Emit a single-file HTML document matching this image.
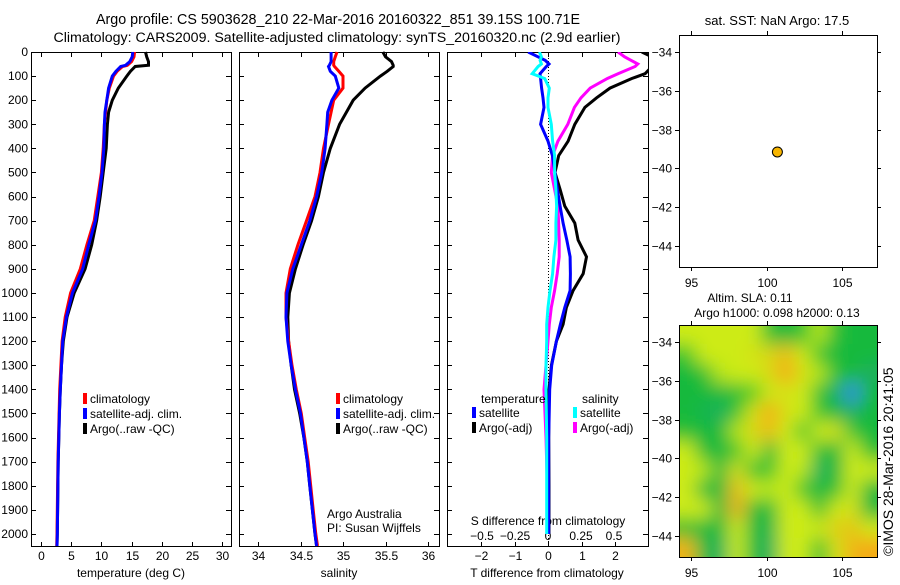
<!DOCTYPE html>
<html><head><meta charset="utf-8">
<style>
body{margin:0;background:#fff;}
svg text{font-family:"Liberation Sans",sans-serif;font-size:12px;fill:#000;}
</style></head>
<body>
<svg id="c" width="900" height="580" xmlns="http://www.w3.org/2000/svg">
<defs>
<clipPath id="cp3"><rect x="447" y="52" width="201" height="494"/></clipPath>
<clipPath id="cpm"><rect x="679" y="325" width="198" height="232"/></clipPath>
<filter id="blur" x="-10%" y="-10%" width="120%" height="120%"><feGaussianBlur stdDeviation="9"/></filter>
</defs>
<text x="338" y="24" text-anchor="middle" style="font-size:14.3px">Argo profile: CS 5903628_210 22-Mar-2016 20160322_851 39.15S 100.71E</text>
<text x="337" y="42" text-anchor="middle" style="font-size:14.2px">Climatology: CARS2009. Satellite-adjusted climatology: synTS_20160320.nc (2.9d earlier)</text>
<text x="777" y="25" text-anchor="middle" style="font-size:13px">sat. SST: NaN Argo: 17.5</text>
<text x="750" y="302" text-anchor="middle">Altim. SLA: 0.11</text>
<text x="777" y="317" text-anchor="middle">Argo h1000: 0.098 h2000: 0.13</text>
<text transform="translate(893,556) rotate(-90)" style="font-size:14px">©IMOS 28-Mar-2016 20:41:05</text>
<g id="g"></g>
</svg>
<script>
const depth=[0,20,40,55,60,80,100,150,200,250,300,400,500,600,700,800,900,1000,1100,1200,1300,1400,1500,1600,1700,1800,1900,2000,2050];
const tClim=[15.5,15.4,15,14.3,13.5,12.6,12,11.3,10.9,10.7,10.5,10.3,10,9.4,8.8,7.6,6.5,4.9,4.0,3.5,3.3,3.1,3.0,2.9,2.8,2.75,2.7,2.65,2.6];
const tSat=[15.2,15.1,14.7,14.0,13.2,12.4,11.8,11.2,10.9,10.6,10.5,10.4,10.1,9.6,9.0,7.9,6.9,5.2,4.2,3.6,3.4,3.2,3.05,2.95,2.85,2.8,2.75,2.7,2.65];
const tArgo=[17.3,17.5,17.8,17.8,15.6,14.8,14.2,12.8,11.8,11.2,11.0,10.8,10.3,9.8,9.2,8.4,7.3,5.5,4.3,3.7,3.4,3.2,3.05,2.95,2.85,2.8,2.75,2.7,2.65];
const sClim=[34.93,34.91,34.89,34.89,34.9,34.95,35.0,35.0,34.89,34.86,34.83,34.77,34.73,34.67,34.57,34.47,34.38,34.33,34.33,34.36,34.40,34.45,34.51,34.55,34.59,34.62,34.65,34.68,34.70];
const sSat=[34.86,34.86,34.86,34.84,34.83,34.85,34.91,34.95,34.87,34.82,34.81,34.79,34.75,34.69,34.61,34.51,34.41,34.34,34.33,34.35,34.39,34.44,34.50,34.54,34.58,34.61,34.64,34.67,34.69];
const sArgo=[35.47,35.5,35.57,35.59,35.59,35.52,35.44,35.26,35.12,35.04,34.96,34.85,34.77,34.71,34.63,34.53,34.44,34.37,34.35,34.36,34.39,34.43,34.49,34.54,34.58,34.61,34.64,34.67,34.69];
const dDepth=[0,20,35,50,60,90,110,150,190,230,300,370,430,500,570,640,710,780,850,920,990,1060,1130,1200,1300,1400,1600,1800,2000];
const dTsat=[-0.59,-0.3,-0.08,0.03,-0.05,-0.24,-0.22,-0.19,-0.15,-0.12,-0.22,0.0,0.13,0.21,0.28,0.36,0.45,0.56,0.66,0.67,0.66,0.5,0.37,0.25,0.11,0.05,0.02,0.02,0.02];
const dTargo=[2.8,3.1,3.2,3.2,3.1,2.9,2.5,1.85,1.45,1.1,0.8,0.6,0.32,0.21,0.36,0.5,0.8,0.9,1.15,1.05,0.75,0.55,0.45,0.25,0.1,0.03,0.02,0.03,0.03];
const dSsat=[-0.065,-0.05,-0.06,-0.05,-0.075,-0.12,-0.025,0.01,0,0,0.025,0.035,0.05,0.05,0.06,0.065,0.06,0.06,0.045,0.035,0.015,0.0,-0.01,-0.01,-0.015,-0.015,-0.01,-0.01,-0.01];
const dSargo=[0.53,0.58,0.63,0.68,0.66,0.53,0.45,0.32,0.25,0.2,0.15,0.075,0.035,0.025,0.05,0.075,0.08,0.085,0.085,0.07,0.05,0.025,0.01,0.0,-0.015,-0.03,-0.015,-0.005,0.0];
const depthTicks=[0,100,200,300,400,500,600,700,800,900,1000,1100,1200,1300,1400,1500,1600,1700,1800,1900,2000];
const tTicks=[0,5,10,15,20,25,30];
const sTicks=[34,34.5,35,35.5,36];
const dtTicks=[-2,-1,0,1,2];
const dsTicks=[-0.5,-0.25,0,0.25,0.5];
const lonTicks=[95,100,105];
const latTicks=[-34,-36,-38,-40,-42,-44];
const argoLon=100.71, argoLat=-39.15;
const sla=[
[0.3,0.3,0.3,0.3,0.3,-0.8,-1,-0.6,0.2,-0.8,-1,-1],
[-0.5,0.3,0.3,0.3,0.4,0.5,0.8,0.3,-0.6,-1,-1,-1],
[-1,-0.8,0.2,0.3,0.3,0.5,1.1,0.4,0.2,-0.8,-1,-1.2],
[-1,-1,-1,-0.8,-0.3,0.3,0.4,0.3,-0.8,-1.2,-2,-1],
[-1,-1.1,-1.2,-0.6,0.4,1.0,0.4,0.3,-0.6,-1,-1.2,-1],
[-0.8,-1,-1,0.2,0.5,0.8,0.3,-0.6,0.3,0.4,-0.6,-1],
[0.3,-0.9,-1,-0.5,0.3,-1,0.3,0.3,-0.8,-1,0.3,-0.8],
[0.3,0.2,-1,0.4,-0.8,-0.6,0.3,0.2,-1.2,-1,0.3,0.3],
[0.3,-1,-1,0.8,0.3,0.2,0.3,-0.6,-1,-0.8,0.3,-1],
[0.3,0.3,-1,0.9,-0.9,-1,0.3,0.3,-0.8,0.3,0.4,-1],
[-0.8,-1,-1,0.3,-1,-1.1,0.3,0.3,0.3,0.6,0.7,0.3],
[0.9,-1,-1.2,0.3,-1,-1.2,0.3,0.3,-0.8,0.4,0.9,1.0]];

const NS='http://www.w3.org/2000/svg';
const G=document.getElementById('g');
function el(t,a,p){const e=document.createElementNS(NS,t);for(const k in a)e.setAttribute(k,a[k]);(p||G).appendChild(e);return e;}
const top0=52,bot0=546;
const yD=d=>top0+(d/2050)*(bot0-top0);
const xT=v=>41+v*6.04;
const xS=v=>258+(v-34)*85;
const xDT=v=>548+v*33.5;
const xDS=v=>548+v*132;
const xLon=v=>679+(v-94.2)*(198/13.1);
const yLat1=v=>35+(-33.1-v)*(232/12);
const yLat2=v=>325+(-33.1-v)*(232/12);

function frame(x,y,w,h,name){const r=el('rect',{x:x+0.5,y:y+0.5,width:w,height:h,fill:'none',stroke:'#000','stroke-width':1});}
function line(vals,ds,xf,color,name,par){const pts=vals.map((v,i)=>xf(v).toFixed(1)+','+yD(ds[i]).toFixed(1)).join(' ');const p=el('polyline',{points:pts,fill:'none',stroke:color,'stroke-width':3,'stroke-linejoin':'miter'},par);}
function txt(x,y,s,anchor,name){const t=el('text',{x:x,y:y,'text-anchor':anchor||'start'});t.textContent=s;return t;}
function tk(x1,y1,x2,y2){el('line',{x1:x1,y1:y1,x2:x2,y2:y2,stroke:'#000','stroke-width':1});}

const panels=[[31,200],[239,200],[447,201]];
panels.forEach((p,i)=>{
  frame(p[0],top0,p[1],bot0-top0,'panel-'+(i+1)+'-frame');
  depthTicks.forEach(d=>{const y=Math.round(yD(d))+0.5;tk(p[0],y,p[0]+5,y);tk(p[0]+p[1],y,p[0]+p[1]-5,y);});
});
depthTicks.forEach(d=>txt(28,yD(d)+4,String(d),'end','depth-tick-label'));
tTicks.forEach(v=>{const x=Math.round(xT(v))+0.5;tk(x,top0,x,top0+5);tk(x,bot0,x,bot0-4);txt(x,560,String(v),'middle','temp-tick-label');});
sTicks.forEach(v=>{const x=Math.round(xS(v))+0.5;tk(x,top0,x,top0+5);tk(x,bot0,x,bot0-4);txt(x,560,String(v),'middle','sal-tick-label');});
dtTicks.forEach(v=>{const x=Math.round(xDT(v))+0.5;tk(x,top0,x,top0+5);tk(x,bot0,x,bot0-4);txt(x,560,String(v).replace('-','\u2212'),'middle','dt-tick-label');});
dsTicks.forEach(v=>{txt(xDS(v),540,String(v).replace('-','\u2212'),'middle','ds-tick-label');});
txt(131,577,'temperature (deg C)','middle','temp-axis-title');
txt(339,577,'salinity','middle','sal-axis-title');
txt(547,577,'T difference from climatology','middle','dt-axis-title');
txt(548,525,'S difference from climatology','middle','ds-axis-title');
el('line',{x1:548.5,y1:top0,x2:548.5,y2:bot0,stroke:'#000','stroke-width':1,'stroke-dasharray':'1,2'});

line(tArgo,depth,xT,'#000','temp-argo-line');
line(tClim,depth,xT,'#f00','temp-clim-line');
line(tSat,depth,xT,'#00f','temp-sat-line');
line(sArgo,depth,xS,'#000','sal-argo-line');
line(sClim,depth,xS,'#f00','sal-clim-line');
line(sSat,depth,xS,'#00f','sal-sat-line');
const g3=el('g',{'clip-path':'url(#cp3)'});
line(dTargo,dDepth,xDT,'#000','dt-argo-line',g3);
line(dSargo,dDepth,xDS,'#f0f','ds-argo-line',g3);
line(dTsat,dDepth,xDT,'#00f','dt-sat-line',g3);
line(dSsat,dDepth,xDS,'#0ff','ds-sat-line',g3);

function legend(x,y,items){items.forEach((it,i)=>{const r=el('rect',{x:x,y:y+i*15-10,width:4,height:11,fill:it[0]});txt(x+7,y+i*15,it[1],'start','legend-entry');});}
legend(83,403,[['#f00','climatology'],['#00f','satellite-adj. clim.'],['#000','Argo(..raw -QC)']]);
legend(336,403,[['#f00','climatology'],['#00f','satellite-adj. clim.'],['#000','Argo(..raw -QC)']]);
txt(481,403,'temperature','start','legend-heading-temp');
txt(582,403,'salinity','start','legend-heading-sal');
legend(472,417,[['#00f','satellite'],['#000','Argo(-adj)']]);
legend(573,417,[['#0ff','satellite'],['#f0f','Argo(-adj)']]);
txt(327,518,'Argo Australia','start','credit-argo');
txt(327,532,'PI: Susan Wijffels','start','credit-pi');

frame(679,35,198,232,'sst-map-frame');
function col(v){const stops=[[-2,[50,140,230]],[-1,[20,185,60]],[-0.3,[80,205,40]],[0.3,[205,235,20]],[1,[245,170,20]]];
 if(v<=stops[0][0])return 'rgb('+stops[0][1]+')';
 for(let i=1;i<stops.length;i++){if(v<=stops[i][0]){const a=stops[i-1],b=stops[i],f=(v-a[0])/(b[0]-a[0]);return 'rgb('+a[1].map((c,k)=>Math.round(c+(b[1][k]-c)*f)).join(',')+')';}}
 return 'rgb('+stops[stops.length-1][1]+')';}
const gm=el('g',{'clip-path':'url(#cpm)'});
const gb=el('g',{filter:'url(#blur)'},gm);
const nr=sla.length,nc=sla[0].length;
const lon0=94.2,lon1=107.3,lat0=-33.1,lat1=-45.1;
sla.forEach((row,r)=>row.forEach((v,c)=>{
  const lo=lon0+(lon1-lon0)*c/nc, la=lat0+(lat1-lat0)*r/nr;
  let x=xLon(lo),y=yLat2(la),w=(198/nc)+0.5,h=(232/nr)+0.5;
  if(c===0){x-=20;w+=20;} if(c===nc-1)w+=20; if(r===0){y-=20;h+=20;} if(r===nr-1)h+=20;
  const cell=el('rect',{x:x,y:y,width:w,height:h,fill:col(v)},gb);
  
  
}));
frame(679,325,198,232,'sla-map-frame');
[[35,yLat1,'sst'],[325,yLat2,'sla']].forEach(m=>{
  const t=m[0],yf=m[1],h=232;
  lonTicks.forEach(v=>{const x=Math.round(xLon(v))+0.5;tk(x,t,x,t-4);tk(x,t+h,x,t+h+4);txt(x,t+h+20,String(v),'middle',m[2]+'-lon-tick');});
  latTicks.forEach(v=>{const y=Math.round(yf(v))+0.5;tk(679,y,675,y);tk(877,y,881,y);txt(672,y+4,String(v).replace('-','\u2212'),'end',m[2]+'-lat-tick');});
});
const dot=el('circle',{cx:xLon(argoLon),cy:yLat1(argoLat),r:5,fill:'#f7b500',stroke:'#000','stroke-width':1});


</script>
</body></html>
